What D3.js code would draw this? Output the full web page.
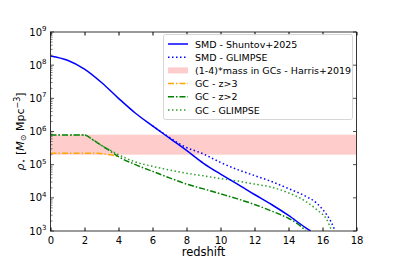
<!DOCTYPE html>
<html><head><meta charset="utf-8">
<script src="https://cdn.jsdelivr.net/npm/d3@7"></script>
<style>body{margin:0;background:#fff}svg{display:block;font-family:"DejaVu Sans",sans-serif}</style>
</head><body><svg id="c" width="397" height="264"></svg>
<script>
// redshift grid per series and densities [M_sun Mpc^-3]
const smdShuntovZ = [0,1,2,3,4,5,6,7,8,9,10,11,12,13,14,15,15.3];
const smdShuntov  = [1.9e8,1.41e8,7.6e7,3.0e7,1.0e7,3.55e6,1.48e6,6.3e5,2.7e5,1.1e5,5.2e4,2.6e4,1.26e4,6.3e3,2.95e3,1.26e3,1.0e3];
const smdGlimpseZ = [6,7,7.6,8,9,10,11,12,13,14,15,15.66,16,16.25,16.5,16.75];
const smdGlimpse  = [1.48e6,6.6e5,4.2e5,3.3e5,2.1e5,1.17e5,7.1e4,4.7e4,3.1e4,1.9e4,1.12e4,6.9e3,4.5e3,3.1e3,1.9e3,1.0e3];
const gcZ3Z = [0,2.8,3.2,3.6,4.0];
const gcZ3  = [2.2e5,2.2e5,2.1e5,1.95e5,1.74e5];
const gcZ2Z = [0,2,2.5,3,3.5,4,5,6,7,8,9,10,11,12,13,14,14.5,15];
const gcZ2  = [7.9e5,7.9e5,5.6e5,3.8e5,2.6e5,1.74e5,1.0e5,6.3e4,4.0e4,2.6e4,1.86e4,1.32e4,9.3e3,6.3e3,4.0e3,2.4e3,1.7e3,1.05e3];
const gcGlimpseZ = [0,2,2.5,3,3.5,4,5,6,7,8,9,10,11,12,13,14,15,15.66,16.25,16.55];
const gcGlimpse  = [7.9e5,7.9e5,5.6e5,3.8e5,2.75e5,2.0e5,1.2e5,8.9e4,6.9e4,5.5e4,4.6e4,3.8e4,3.2e4,2.6e4,2.1e4,1.41e4,7.9e3,4.4e3,2.2e3,1.0e3];
const harrisBand = [2.0e5, 8.0e5];
const xTicks = [0,2,4,6,8,10,12,14,16,18];
const yExps = [3,4,5,6,7,8,9];
const legendLabels = ["SMD - Shuntov+2025","SMD - GLIMPSE","(1-4)*mass in GCs - Harris+2019","GC - z>3","GC - z>2","GC - GLIMPSE"];

const svg = d3.select("#c");
const L=50.5,R=356.5,T=32,B=231;
const x = d3.scaleLinear().domain([0,18]).range([L,R]);
const y = d3.scaleLog().domain([1e3,1e9]).range([B,T]);

svg.append("defs").append("clipPath").attr("id","clip").append("rect")
  .attr("x",L).attr("y",T).attr("width",R-L).attr("height",B-T);
const g = svg.append("g").attr("clip-path","url(#clip)");

g.append("rect").attr("x",x(0)).attr("width",x(18)-x(0))
  .attr("y",y(harrisBand[1])).attr("height",y(harrisBand[0])-y(harrisBand[1]))
  .attr("fill","#ffcccc");

const line = d3.line().x(d=>x(d[0])).y(d=>y(d[1])).curve(d3.curveMonotoneX);
const zip=(a,b)=>a.map((v,i)=>[v,b[i]]);
const styles = [
  {z:gcZ3Z,v:gcZ3,c:"orange",d:"6,2,1.5,2"},
  {z:gcZ2Z,v:gcZ2,c:"green",d:"6,2,1.5,2"},
  {z:gcGlimpseZ,v:gcGlimpse,c:"#2ca02c",d:"1.5,2.5"},
  {z:smdGlimpseZ,v:smdGlimpse,c:"blue",d:"1.5,2.5"},
  {z:smdShuntovZ,v:smdShuntov,c:"blue",d:null},
];
styles.forEach(s=>{
  g.append("path").attr("d",line(zip(s.z,s.v))).attr("fill","none")
   .attr("stroke",s.c).attr("stroke-width",1.5).attr("stroke-dasharray",s.d);
});

// frame
svg.append("rect").attr("x",L).attr("y",T).attr("width",R-L).attr("height",B-T)
  .attr("fill","none").attr("stroke","#222").attr("stroke-width",0.9);

// x axis
const xa = svg.append("g").attr("transform",`translate(0,${B})`)
  .call(d3.axisBottom(x).tickValues(xTicks).tickSize(-3.5).tickPadding(5.5).tickFormat(d3.format("d")));
xa.select(".domain").remove();
xa.selectAll("text").attr("font-size",10).attr("fill","#000").attr("font-family","DejaVu Sans");
const xt = svg.append("g").attr("transform",`translate(0,${T})`)
  .call(d3.axisTop(x).tickValues(xTicks).tickSize(-3.5).tickFormat(""));
xt.select(".domain").remove();

// y axis majors and minors
const minors=[];
for(let e=3;e<9;e++) for(let m=2;m<10;m++) minors.push(m*Math.pow(10,e));
[[L,1],[R,-1]].forEach(([px,dir])=>{
  yExps.forEach(e=>{
    svg.append("line").attr("x1",px).attr("x2",px+dir*3.5).attr("y1",y(Math.pow(10,e))).attr("y2",y(Math.pow(10,e))).attr("stroke","#222").attr("stroke-width",0.8);
  });
});
minors.forEach(v=>{
  svg.append("line").attr("x1",L).attr("x2",L+2).attr("y1",y(v)).attr("y2",y(v)).attr("stroke","#222").attr("stroke-width",0.6);
});
yExps.forEach(e=>{
  const t=svg.append("text").attr("x",L-4).attr("y",y(Math.pow(10,e))+3.5).attr("text-anchor","end").attr("font-size",10);
  t.append("tspan").text("10");
  t.append("tspan").attr("font-size",7).attr("dy",-4.5).text(e);
});

// axis labels
svg.append("text").attr("x",(L+R)/2).attr("y",256).attr("text-anchor","middle").attr("font-size",11.5).text("redshift");
const yl = svg.append("text").attr("transform",`translate(24,${(T+B)/2}) rotate(-90)`).attr("text-anchor","middle").attr("font-size",11);
yl.append("tspan").attr("font-style","italic").text("ρ");
yl.append("tspan").attr("font-size",8).attr("dy",2).text("⋆");
yl.append("tspan").attr("dy",-2).text(" [");
yl.append("tspan").attr("font-style","italic").text("M");
yl.append("tspan").attr("font-size",8).attr("dy",2).text("⊙");
yl.append("tspan").attr("dy",-2).text(" Mpc");
yl.append("tspan").attr("font-size",8).attr("dy",-4).text("−3");
yl.append("tspan").attr("dy",4).text("]");

// legend
const lg = svg.append("g");
lg.append("rect").attr("x",163.5).attr("y",34.5).attr("width",189).attr("height",85).attr("rx",2)
  .attr("fill","#fff").attr("fill-opacity",0.85).attr("stroke","#ccc").attr("stroke-width",0.8);
const lstyles=[
  {c:"blue",d:null},{c:"blue",d:"1.5,2.5"},{patch:true},
  {c:"orange",d:"6,2,1.5,2"},{c:"green",d:"6,2,1.5,2"},{c:"#2ca02c",d:"1.5,2.5"}];
legendLabels.forEach((lab,i)=>{
  const yy=44+i*13.2;
  const s=lstyles[i];
  if(s.patch) lg.append("rect").attr("x",168).attr("y",yy-3).attr("width",20).attr("height",6).attr("fill","#ffcccc");
  else lg.append("line").attr("x1",168).attr("x2",188).attr("y1",yy).attr("y2",yy).attr("stroke",s.c).attr("stroke-width",1.5).attr("stroke-dasharray",s.d);
  lg.append("text").attr("x",195).attr("y",yy+3.5).attr("font-size",9.5).text(lab);
});
</script></body></html>
